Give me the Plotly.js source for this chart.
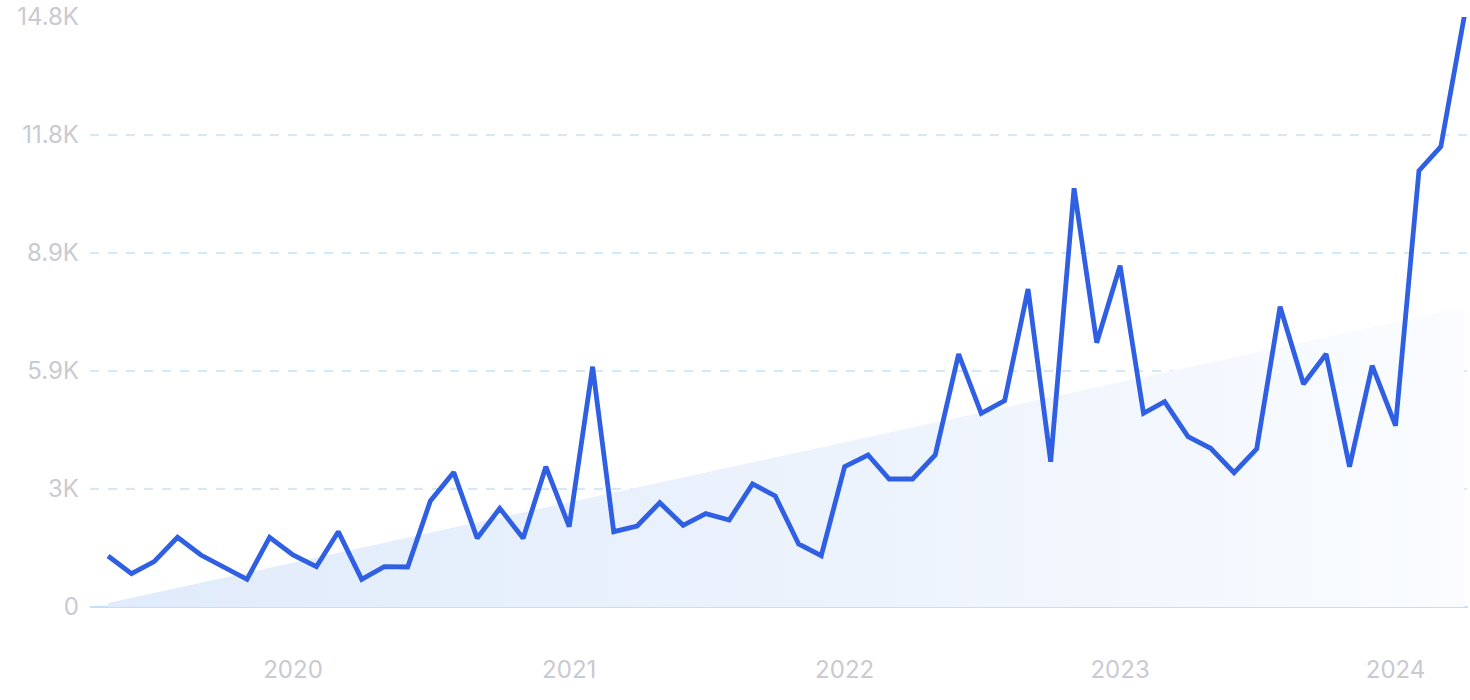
<!DOCTYPE html>
<html>
<head>
<meta charset="utf-8">
<script src="https://cdn.plot.ly/plotly-3.0.1.min.js"></script>
<style>
  html, body { margin: 0; padding: 0; background: #ffffff; }
  #chart { width: 1470px; height: 700px; }
</style>
</head>
<body>
<div id="chart"></div>
<script>
// Monthly dates, May 2019 – Apr 2024
const months = [
  '2019-05-01','2019-06-01','2019-07-01','2019-08-01','2019-09-01','2019-10-01','2019-11-01','2019-12-01',
  '2020-01-01','2020-02-01','2020-03-01','2020-04-01','2020-05-01','2020-06-01','2020-07-01','2020-08-01','2020-09-01','2020-10-01','2020-11-01','2020-12-01',
  '2021-01-01','2021-02-01','2021-03-01','2021-04-01','2021-05-01','2021-06-01','2021-07-01','2021-08-01','2021-09-01','2021-10-01','2021-11-01','2021-12-01',
  '2022-01-01','2022-02-01','2022-03-01','2022-04-01','2022-05-01','2022-06-01','2022-07-01','2022-08-01','2022-09-01','2022-10-01','2022-11-01','2022-12-01',
  '2023-01-01','2023-02-01','2023-03-01','2023-04-01','2023-05-01','2023-06-01','2023-07-01','2023-08-01','2023-09-01','2023-10-01','2023-11-01','2023-12-01',
  '2024-01-01','2024-02-01','2024-03-01','2024-04-01'
];

const searches = [
  1275, 833, 1133, 1742, 1300, 1000, 692, 1742,
  1300, 1008, 1883, 692, 1008, 1000, 2650, 3367, 1717, 2467, 1717, 3508,
  2008, 6008, 1883, 2025, 2608, 2042, 2333, 2175, 3075, 2775, 1575, 1283,
  3508, 3800, 3200, 3200, 3800, 6325, 4842, 5158, 7950, 3633, 10467, 6608,
  8533, 4842, 5133, 4258, 3967, 3358, 3950, 7508, 5575, 6325, 3508, 6033,
  4533, 10908, 11508, 14758
];

// Trend band (start / end of the shaded wedge)
const trendX = ['2019-05-01', '2024-04-01'];
const trendY = [100, 7500];

const yTickVals = [0, 2950, 5900, 8850, 11800, 14750];
const yTickText = ['0', '3K', '5.9K', '8.9K', '11.8K', '14.8K'];
const xTickVals = ['2020-01-01', '2021-01-01', '2022-01-01', '2023-01-01', '2024-01-01'];
const xTickText = ['2020', '2021', '2022', '2023', '2024'];

const trendTrace = {
  x: trendX,
  y: trendY,
  type: 'scatter',
  mode: 'lines',
  line: { width: 0, color: 'rgba(0,0,0,0)' },
  fill: 'tozeroy',
  fillgradient: {
    type: 'horizontal',
    colorscale: [[0, '#e0ebfb'], [0.6, '#eef4fd'], [1, '#fafcff']]
  },
  hoverinfo: 'skip',
  showlegend: false
};

const lineTrace = {
  x: months,
  y: searches,
  type: 'scatter',
  mode: 'lines',
  line: { color: '#2f5fe3', width: 4.8, shape: 'linear' },
  cliponaxis: false,
  showlegend: false
};

const tickFont = { family: 'Inter, "Noto Sans", sans-serif', size: 24, color: '#c9cad2' };

const layout = {
  width: 1470,
  height: 700,
  margin: { l: 90, r: 2, t: 17, b: 93 },
  paper_bgcolor: '#ffffff',
  plot_bgcolor: '#ffffff',
  showlegend: false,
  xaxis: {
    type: 'date',
    range: ['2019-04-07', '2024-04-06'],
    tickvals: xTickVals,
    ticktext: xTickText,
    tickfont: tickFont,
    showgrid: false,
    zeroline: false,
    showline: false,
    ticks: '',
    ticklabelstandoff: 46
  },
  yaxis: {
    range: [0, 14750],
    tickvals: yTickVals,
    ticktext: yTickText,
    tickfont: tickFont,
    showgrid: true,
    gridcolor: '#d4e9f8',
    gridwidth: 1.3,
    griddash: 'dash',
    zeroline: true,
    zerolinecolor: '#c3e0fa',
    zerolinewidth: 1.5,
    showline: false,
    ticks: '',
    ticklabelstandoff: 10
  }
};

Plotly.newPlot('chart', [trendTrace, lineTrace], layout, { displayModeBar: false, staticPlot: true });
</script>
</body>
</html>
